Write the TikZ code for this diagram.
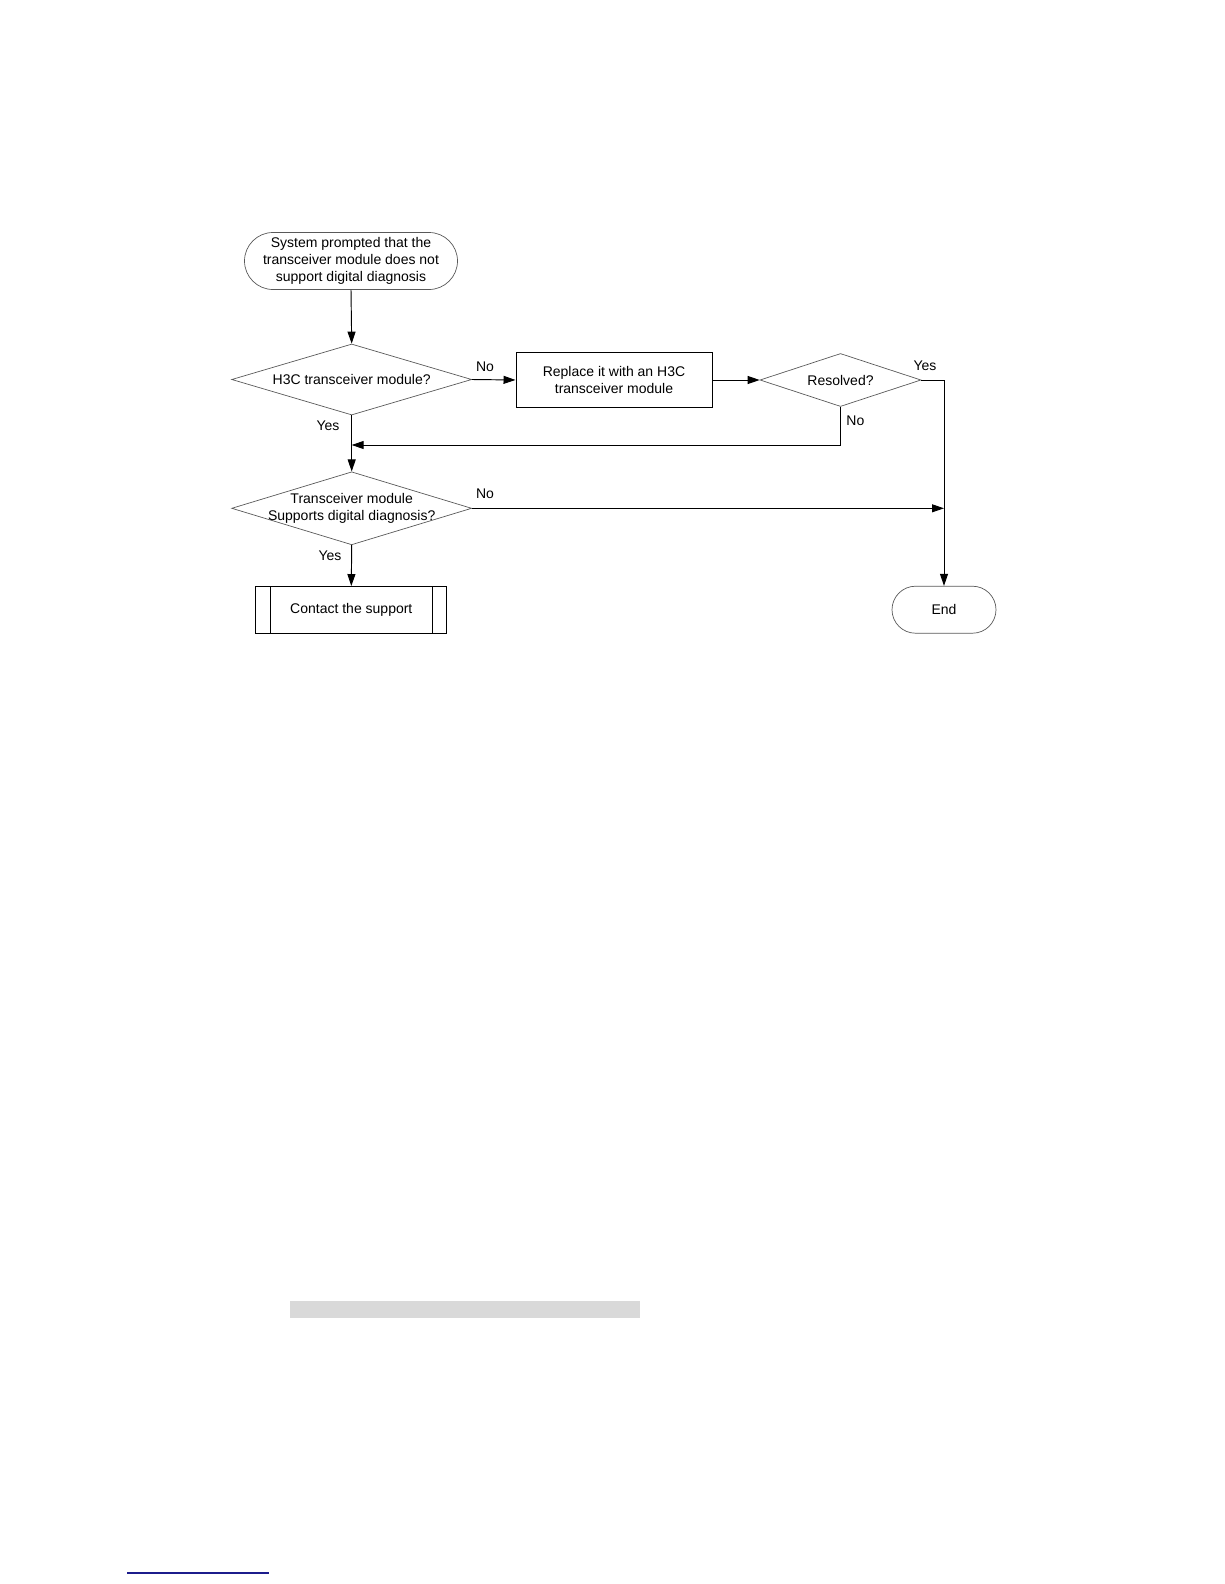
\documentclass[tikz,border=0pt]{standalone}
\usepackage{fontspec}
\setmainfont{Liberation Sans}
\usetikzlibrary{shapes.geometric,arrows.meta}
\definecolor{barGrey}{HTML}{D9D9D9}
\definecolor{linkBlue}{HTML}{1C1C8C}
\begin{document}
\begin{tikzpicture}[x=1pt,y=-1pt,
  every node/.style={font=\fontsize{14}{17}\selectfont, text=black},
  term/.style={draw=black!65, line width=0.7pt, rectangle, inner sep=0pt, align=center},
  dia/.style={draw=black!65, line width=0.7pt, diamond, inner sep=0pt},
  procbox/.style={draw=black, line width=0.95pt, rectangle, inner sep=0pt, align=center},
  conn/.style={draw=black, line width=0.95pt, -{Triangle[length=12pt,width=8pt]}},
  plain/.style={draw=black, line width=0.95pt},
  lbl/.style={inner sep=0pt}
]
\useasboundingbox (0,0) rectangle (1224,1584);

% nodes
\node[term, minimum width=213pt, minimum height=57pt, rounded corners=28.5pt] (start) at (351,261)
  {System prompted that the\\transceiver module does not\\support digital diagnosis};
\node[dia, minimum width=240pt, minimum height=71pt] (d1) at (351.7,379.5) {};
\node[lbl] (d1t) at (d1.center) {H3C transceiver module?};
\node[procbox, minimum width=196pt, minimum height=55pt] (rep) at (614,380)
  {Replace it with an H3C\\transceiver module};
\node[dia, minimum width=161pt, minimum height=53pt] (d2) at (840.5,380) {};
\node[lbl] (d2t) at (d2.center) {Resolved?};
\node[dia, minimum width=240pt, minimum height=73pt] (d3) at (351.7,508.3) {};
\node[lbl, align=center] (d3t) at (d3.center) {Transceiver module\\Supports digital diagnosis?};
\node[procbox, minimum width=191pt, minimum height=47pt] (sup) at (351.3,610) {Contact the support};
\draw[plain] ([xshift=15pt]sup.north west) -- ([xshift=15pt]sup.south west);
\draw[plain] ([xshift=-15pt]sup.north east) -- ([xshift=-15pt]sup.south east);
\node[term, minimum width=104pt, minimum height=47pt, rounded corners=23.5pt] (endn) at (944,609.7) {End};

% helper coordinates
\coordinate (c2r) at (944,380);
\coordinate (c2b) at (840.5,445);
\coordinate (mrg) at (351.7,445);
\coordinate (c3r) at (944,508.3);

% connectors
\draw[conn] (start.south) -- (d1.north);
\draw[conn] (d1.east) -- (rep.west);
\draw[conn] (rep.east) -- (d2.west);
\draw[conn] (d2.east) -- (c2r) -- (endn.north);
\draw[conn] (d2.south) -- (c2b) -- (mrg);
\draw[conn] (d1.south) -- (d3.north);
\draw[conn] (d3.east) -- (c3r);
\draw[conn] (d3.south) -- (sup.north);

% labels
\node[lbl] (l1) at (485,366.6) {No};
\node[lbl] (l2) at (925,365.6) {Yes};
\node[lbl] (l3) at (855.4,421) {No};
\node[lbl] (l4) at (328,426) {Yes};
\node[lbl] (l5) at (485,494) {No};
\node[lbl] (l6) at (330,555.5) {Yes};

% page decorations
\fill[barGrey] (290,1301) rectangle (640,1318);
\draw[linkBlue, line width=2pt] (127,1573) -- (269,1573);
\end{tikzpicture}
\end{document}
